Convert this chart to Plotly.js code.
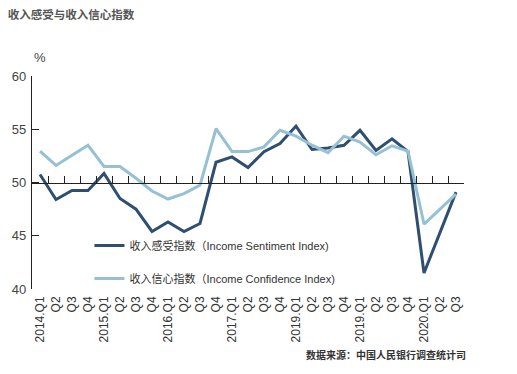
<!DOCTYPE html>
<html>
<head>
<meta charset="utf-8">
<script src="https://cdn.plot.ly/plotly-3.0.1.min.js"></script>
<style>html,body{margin:0;padding:0;background:#fff;}#chart{width:517px;height:374px;}</style>
</head>
<body>
<div id="chart"></div>
<script>
const tickLabels = ["2014.Q1","Q2","Q3","Q4","2015.Q1","Q2","Q3","Q4","2016.Q1","Q2","Q3","Q4",
  "2017.Q1","Q2","Q3","Q4","2019.Q1","Q2","Q3","Q4","2019.Q1","Q2","Q3","Q4","2020.Q1","Q2","Q3"];
const sentiment = [50.75,48.4,49.25,49.25,50.85,48.5,47.5,45.4,46.3,45.4,46.15,51.9,
  52.4,51.4,52.9,53.65,55.3,53.1,53.25,53.5,54.9,53.0,54.1,52.9,41.5,45.3,49.1];
const confidence = [52.95,51.6,52.55,53.5,51.5,51.5,50.4,49.2,48.45,48.95,49.75,55.05,
  52.9,52.9,53.35,54.9,54.35,53.5,52.8,54.35,53.8,52.6,53.45,52.95,46.1,47.5,48.9];
const sentimentName = "收入感受指数（Income Sentiment Index)";
const confidenceName = "收入信心指数（Income Confidence Index)";

const idx = tickLabels.map((_, i) => i);
const mids = tickLabels.map((_, i) => i + 0.5);
const font = "'Liberation Sans', Arial, 'Noto Sans CJK SC', sans-serif";

const traces = [
  {x: idx, y: confidence, name: confidenceName, type: 'scatter', mode: 'lines',
   line: {color: '#96c0d4', width: 3}, legendgroup: 'b', legendrank: 2, xaxis: 'x2', yaxis: 'y'},
  {x: idx, y: sentiment, name: sentimentName, type: 'scatter', mode: 'lines',
   line: {color: '#2f4f70', width: 3}, legendgroup: 'a', legendrank: 1, xaxis: 'x', yaxis: 'y'}
];

const layout = {
  width: 517, height: 374,
  margin: {l: 32, r: 53, t: 76, b: 85},
  paper_bgcolor: '#fff', plot_bgcolor: '#fff',
  font: {family: font, color: '#333', size: 10},
  showlegend: true,
  legend: {x: 0.133, y: 0.272, xanchor: 'left', yanchor: 'top', traceorder: 'grouped',
    tracegroupgap: 14, font: {size: 11, color: '#333'}, bgcolor: 'rgba(0,0,0,0)'},
  title: {text: '<b>收入感受与收入信心指数</b>', xref: 'container', x: 0.015, xanchor: 'left',
    yref: 'container', y: 0.96, yanchor: 'middle', font: {size: 11.5, color: '#555', family: font}},
  xaxis: {range: [-0.5, 26.5], anchor: 'free', position: 0.5, showline: true, linecolor: '#222',
    linewidth: 1.2, tickvals: mids, ticks: 'inside', ticklen: 7, tickcolor: '#222',
    showticklabels: false, showgrid: false, zeroline: false, fixedrange: true},
  xaxis2: {range: [-0.5, 26.5], overlaying: 'x', anchor: 'y', side: 'bottom', matches: 'x',
    tickvals: idx, ticktext: tickLabels, tickangle: -90, ticks: '', showline: false,
    showgrid: false, zeroline: false, tickfont: {size: 12, color: '#333'}, ticklabelstandoff: 4},
  yaxis: {range: [40, 60], tickvals: [40, 45, 50, 55, 60], ticks: 'inside', ticklen: 7,
    tickcolor: '#222', showline: true, linecolor: '#222', linewidth: 1.2, showgrid: false,
    zeroline: false, tickfont: {size: 13, color: '#444'}, ticklabelstandoff: 2},
  annotations: [
    {text: '%', xref: 'paper', yref: 'paper', x: 0.0, y: 1.085, xanchor: 'left', yanchor: 'middle',
     showarrow: false, font: {size: 13, color: '#444'}},
    {text: '<b>数据来源：中国人民银行调查统计司</b>', xref: 'paper', yref: 'paper', x: 1.01, y: -0.31,
     xanchor: 'right', yanchor: 'middle', showarrow: false, font: {size: 10, color: '#333'}}
  ]
};
Plotly.newPlot('chart', traces, layout, {displayModeBar: false, staticPlot: true});
</script>
</body>
</html>
